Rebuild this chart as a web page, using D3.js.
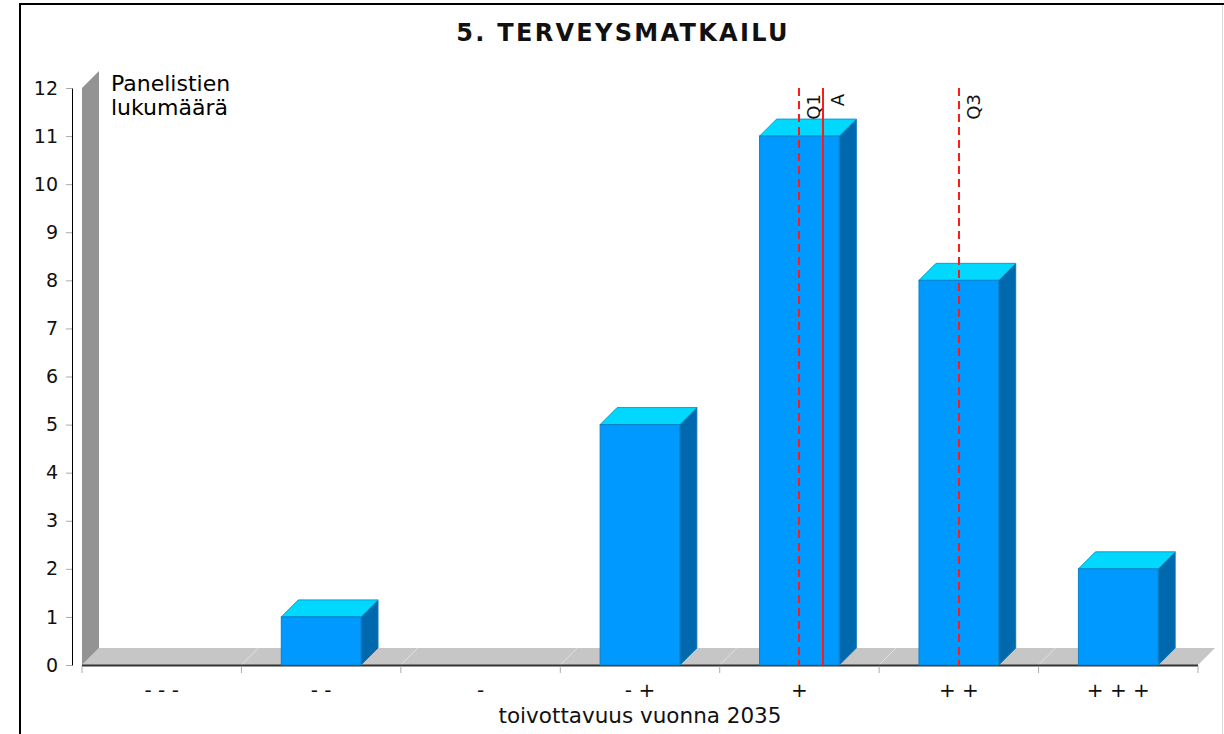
<!DOCTYPE html>
<html>
<head>
<meta charset="utf-8">
<script src="https://cdn.jsdelivr.net/npm/d3@7/dist/d3.min.js"></script>
<style>
  html, body { margin: 0; padding: 0; background: #fff; }
  svg { display: block; }
  text { font-family: "DejaVu Sans", sans-serif; }
</style>
</head>
<body>
<svg id="chart" width="1224" height="734"></svg>
<script>
// Answer categories (desirability scale) and number of panelists per answer
const categories = ["- - -", "- -", "-", "- +", "+", "+ +", "+ + +"];
const counts = [0, 1, 0, 5, 11, 8, 2];
const yTicks = [0, 1, 2, 3, 4, 5, 6, 7, 8, 9, 10, 11, 12];

// Summary markers on the category scale (1 = "- - -", 7 = "+ + +")
const markerNames = ["Q1", "A", "Q3"];
const markerValues = [5, 5.15, 6];
const markerDashed = [true, false, true];

const titleText = "5. TERVEYSMATKAILU";
const xTitle = "toivottavuus vuonna 2035";
const yTitle = ["Panelistien", "lukumäärä"];

const svg = d3.select("#chart");

// plot frame
const plotL = 82, plotR = 1198, plotT = 88, plotB = 665;
const depthX = 17, depthY = 17;

const x = d3.scaleBand().domain(categories).range([plotL, plotR])
  .paddingInner(0.5).paddingOuter(0.25);
const xCat = d3.scaleLinear().domain([0.5, categories.length + 0.5]).range([plotL, plotR]);
const y = d3.scaleLinear().domain([0, 12]).range([plotB, plotT]);

// outer frame lines
svg.append("line").attr("x1", 20).attr("x2", 1224).attr("y1", 4).attr("y2", 4)
  .attr("stroke", "#000").attr("stroke-width", 2);
svg.append("line").attr("x1", 20).attr("x2", 20).attr("y1", 3).attr("y2", 734)
  .attr("stroke", "#000").attr("stroke-width", 2);
svg.append("line").attr("x1", 1222.5).attr("x2", 1222.5).attr("y1", 5).attr("y2", 734)
  .attr("stroke", "#d8d8d8").attr("stroke-width", 1);

// title
svg.append("text").attr("x", 623).attr("y", 41).attr("text-anchor", "middle")
  .attr("font-size", 24).attr("font-weight", "bold").attr("fill", "#111")
  .attr("letter-spacing", 2.3)
  .text(titleText);

// 3D floor and wall
const pts = p => p.map(d => d.join(",")).join(" ");
svg.append("polygon")
  .attr("points", pts([[plotL, plotB], [plotR, plotB], [plotR + depthX, plotB - depthY], [plotL + depthX, plotB - depthY]]))
  .attr("fill", "#c6c6c6");
svg.append("polygon")
  .attr("points", pts([[plotL, plotB], [plotL, y(12)], [plotL + depthX, y(12) - depthY], [plotL + depthX, plotB - depthY]]))
  .attr("fill", "#939393");

// floor grid lines at category boundaries
const bounds = d3.range(categories.length + 1).map(i => xCat(i + 0.5));
svg.append("g").selectAll("line").data(bounds.slice(1, -1)).join("line")
  .attr("x1", d => d).attr("y1", plotB)
  .attr("x2", d => d + depthX).attr("y2", plotB - depthY)
  .attr("stroke", "#e2e2e2").attr("stroke-width", 1);

// x axis baseline and boundary ticks
svg.append("line").attr("x1", plotL).attr("x2", plotR).attr("y1", plotB + 0.5).attr("y2", plotB + 0.5)
  .attr("stroke", "#333").attr("stroke-width", 2);
svg.append("g").selectAll("line").data(bounds).join("line")
  .attr("x1", d => d).attr("x2", d => d).attr("y1", plotB + 1).attr("y2", plotB + 8)
  .attr("stroke", "#aaa").attr("stroke-width", 1);

// bars
const bars = svg.append("g");
categories.forEach((c, i) => {
  const v = counts[i];
  if (v <= 0) return;
  const x0 = x(c), x1 = x(c) + x.bandwidth(), yv = y(v);
  bars.append("polygon")
    .attr("points", pts([[x1, yv], [x1 + depthX, yv - depthY], [x1 + depthX, plotB - depthY], [x1, plotB]]))
    .attr("fill", "#0068ad").attr("stroke", "#0a78b8").attr("stroke-width", 1);
  bars.append("polygon")
    .attr("points", pts([[x0, yv], [x0 + depthX, yv - depthY], [x1 + depthX, yv - depthY], [x1, yv]]))
    .attr("fill", "#00d8ff").attr("stroke", "#0aa0d0").attr("stroke-width", 1);
  bars.append("rect")
    .attr("x", x0).attr("y", yv).attr("width", x.bandwidth()).attr("height", plotB - yv)
    .attr("fill", "#0099ff").attr("stroke", "#0a80c8").attr("stroke-width", 1);
});

// category labels
svg.append("g").selectAll("text").data(categories).join("text")
  .attr("x", d => x(d) + x.bandwidth() / 2).attr("y", 697)
  .attr("text-anchor", "middle").attr("font-size", 20).attr("fill", "#111")
  .text(d => d);

svg.append("text").attr("x", 640).attr("y", 723).attr("text-anchor", "middle")
  .attr("font-size", 21.5).attr("fill", "#111").text(xTitle);

// y axis
const yAxis = d3.axisLeft(y).tickValues(yTicks).tickSize(6).tickSizeOuter(0).tickPadding(8)
  .tickFormat(d3.format("d"));
const gy = svg.append("g").attr("transform", "translate(72,0)").call(yAxis);
gy.select(".domain").attr("stroke", "#000");
gy.selectAll(".tick line").attr("stroke", "#aaa");
gy.selectAll(".tick text").attr("font-size", 19).attr("fill", "#111")
  .attr("font-family", "DejaVu Sans, sans-serif");

// y title
svg.append("g").selectAll("text").data(yTitle).join("text")
  .attr("x", 111).attr("y", (d, i) => 91 + i * 24)
  .attr("font-size", 22).attr("fill", "#000").text(d => d);

// summary markers
const mg = svg.append("g");
markerNames.forEach((name, i) => {
  const mx = Math.round(xCat(markerValues[i]));
  mg.append("line").attr("x1", mx).attr("x2", mx).attr("y1", plotT).attr("y2", plotB)
    .attr("stroke", "#ff1a1a").attr("stroke-width", 2)
    .attr("stroke-dasharray", markerDashed[i] ? "8,5" : null);
  mg.append("text")
    .attr("transform", `translate(${mx + 21},94) rotate(-90)`)
    .attr("text-anchor", "end").attr("font-size", 18).attr("fill", "#111")
    .text(name);
});
</script>
</body>
</html>
